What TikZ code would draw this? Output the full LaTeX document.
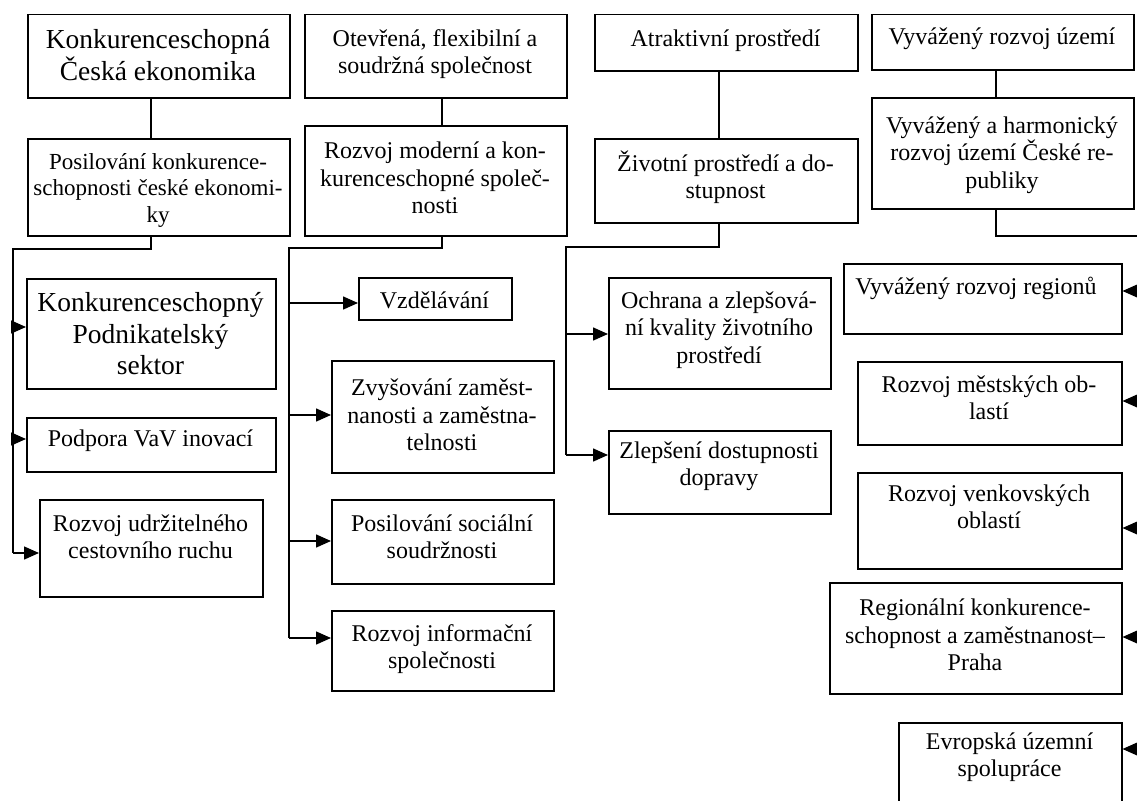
\documentclass[tikz,border=0pt]{standalone}
\usepackage{fontspec}
\setmainfont{Liberation Serif}
\usetikzlibrary{arrows.meta}
\tikzset{
  box/.style={draw, line width=1.5pt, inner sep=0pt, anchor=north west},
  txt/.style={align=center, inner sep=0pt, font=\fontsize{24}{27.5}\selectfont},
  big/.style={font=\fontsize{27.5}{31.5}\selectfont},
  small/.style={font=\fontsize{23}{26.5}\selectfont},
  link/.style={line width=1.5pt},
  arr/.style={line width=1.5pt, -{Triangle[length=15pt,width=13pt]}},
}
\newcommand{\bx}[5]{\node[box, minimum width={#4-#2}, minimum height={#5-#3}] (#1) at (#2,#3) {};}
\begin{document}
\begin{tikzpicture}[x=1pt,y=-1pt]
\useasboundingbox (0,0) rectangle (1137,800);
\clip (0,0) rectangle (1137,800);
\fill[white] (0,0) rectangle (1137,800);

% ---------- column 1 ----------
\bx{k1}{27}{14}{289}{97}
\bx{k2}{27}{138}{289}{235}
\bx{k3}{26}{278}{275}{388}
\bx{k4}{26}{417}{275}{471}
\bx{k5}{39}{499}{262}{596}
\node[txt,big] (k1t) at (158,55) {Konkurenceschopná\\Česká ekonomika};
\node[txt,small] (k2t) at (158,190) {Posilování konkurence-\\schopnosti české ekonomi-\\ky};
\node[txt,big] (k3t) at (150.5,334) {Konkurenceschopný\\Podnikatelský\\sektor};
\node[txt] (k4t) at (150.5,441) {Podpora VaV inovací};
\node[txt] (k5t) at (150.5,537) {Rozvoj udržitelného\\cestovního ruchu};

\coordinate (c1) at (151,249);
\coordinate (t1) at (13,249);
\coordinate (b13) at (13,327);
\coordinate (b14) at (13,439);
\coordinate (b15) at (13,553);
\draw[link] (k1.south -| c1) -- (k2.north -| c1);
\draw[link] (k2.south -| c1) -- (c1) -- (t1) -- (b15);
\draw[arr] (b13) -- (b13 -| k3.west);
\draw[arr] (b14) -- (b14 -| k4.west);
\draw[arr] (b15) -- (b15 -| k5.west);

% ---------- column 2 ----------
\bx{o1}{304}{14}{566}{97}
\bx{o2}{304}{125}{566}{235}
\bx{o3}{358}{277}{511}{319}
\bx{o4}{331}{360}{553}{472}
\bx{o5}{331}{499}{553}{583}
\bx{o6}{331}{610}{553}{690}
\node[txt] (o1t) at (435,54) {Otevřená, flexibilní a\\soudržná společnost};
\node[txt] (o2t) at (435,178) {Rozvoj moderní a kon-\\kurenceschopné společ-\\nosti};
\node[txt] (o3t) at (434.5,300) {Vzdělávání};
\node[txt] (o4t) at (442,415) {Zvyšování zaměst-\\nanosti a zaměstna-\\telnosti};
\node[txt] (o5t) at (442,537) {Posilování sociální\\soudržnosti};
\node[txt] (o6t) at (442,649) {Rozvoj informační\\společnosti};

\coordinate (c2) at (442,248);
\coordinate (t2) at (289,248);
\coordinate (b23) at (289,303);
\coordinate (b24) at (289,415);
\coordinate (b25) at (289,541);
\coordinate (b26) at (289,638);
\draw[link] (o1.south -| c2) -- (o2.north -| c2);
\draw[link] (o2.south -| c2) -- (c2) -- (t2) -- (b26);
\draw[arr] (b23) -- (b23 -| o3.west);
\draw[arr] (b24) -- (b24 -| o4.west);
\draw[arr] (b25) -- (b25 -| o5.west);
\draw[arr] (b26) -- (b26 -| o6.west);

% ---------- column 3 ----------
\bx{a1}{594}{14}{857}{70}
\bx{a2}{594}{138}{857}{222}
\bx{a3}{608}{277}{830}{388}
\bx{a4}{608}{430}{830}{513}
\node[txt] (a1t) at (725.5,41) {Atraktivní prostředí};
\node[txt] (a2t) at (725.5,177) {Životní prostředí a do-\\stupnost};
\node[txt] (a3t) at (719,330) {Ochrana a zlepšová-\\ní kvality životního\\prostředí};
\node[txt] (a4t) at (719,466) {Zlepšení dostupnosti\\dopravy};

\coordinate (c3) at (719,247);
\coordinate (t3) at (566,247);
\coordinate (b33) at (566,334);
\coordinate (b34) at (566,455);
\draw[link] (a1.south -| c3) -- (a2.north -| c3);
\draw[link] (a2.south -| c3) -- (c3) -- (t3) -- (b34);
\draw[arr] (b33) -- (b33 -| a3.west);
\draw[arr] (b34) -- (b34 -| a4.west);

% ---------- column 4 ----------
\bx{v1}{871}{14}{1133}{69}
\bx{v2}{871}{97}{1133}{208}
\bx{v3}{843}{263}{1121}{333}
\bx{v4}{857}{361}{1121}{444}
\bx{v5}{857}{472}{1121}{568}
\bx{v6}{829}{582}{1121}{693}
\bx{v7}{898}{722}{1121}{830}
\node[txt] (v1t) at (1002,39) {Vyvážený rozvoj území};
\node[txt] (v2t) at (1002,155) {Vyvážený a harmonický\\rozvoj území České re-\\publiky};
\node[txt] (v3t) at (976,288) {Vyvážený rozvoj regionů};
\node[txt] (v4t) at (989,398) {Rozvoj městských ob-\\lastí};
\node[txt] (v5t) at (989,507) {Rozvoj venkovských\\oblastí};
\node[txt] (v6t) at (975,635) {Regionální konkurence-\\schopnost a zaměstnanost–\\Praha};
\node[txt] (v7t) at (1009.5,757) {Evropská územní\\spolupráce};

\coordinate (c4) at (996,236);
\coordinate (t4) at (1152,236);
\coordinate (b43) at (1152,291);
\coordinate (b44) at (1152,401);
\coordinate (b45) at (1152,528);
\coordinate (b46) at (1152,637);
\coordinate (b47) at (1152,749);
\draw[link] (v1.south -| c4) -- (v2.north -| c4);
\draw[link] (v2.south -| c4) -- (c4) -- (t4) -- (b47);
\draw[arr] (b43) -- (b43 -| v3.east);
\draw[arr] (b44) -- (b44 -| v4.east);
\draw[arr] (b45) -- (b45 -| v5.east);
\draw[arr] (b46) -- (b46 -| v6.east);
\draw[arr] (b47) -- (b47 -| v7.east);
\end{tikzpicture}
\end{document}
